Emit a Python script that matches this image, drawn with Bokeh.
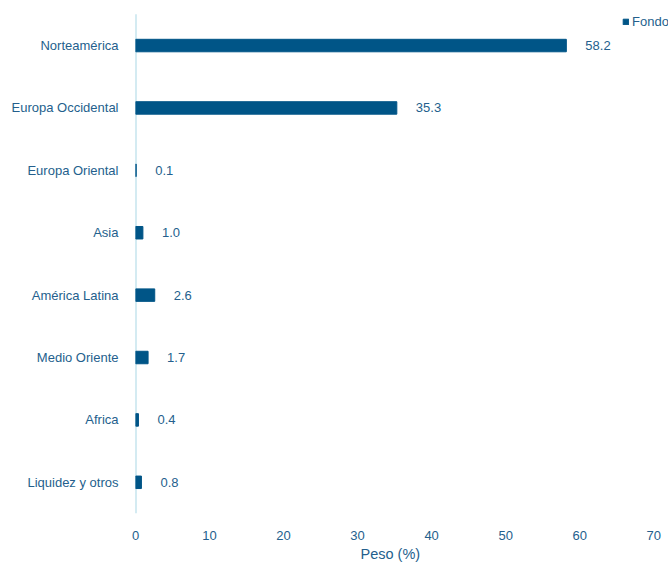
from bokeh.plotting import figure
from bokeh.models import ColumnDataSource, FixedTicker, Range1d, Legend, LegendItem, Title
from bokeh.core.properties import value
from bokeh.embed import file_html
from bokeh.resources import INLINE

regions = ["Norteamérica", "Europa Occidental", "Europa Oriental", "Asia",
           "América Latina", "Medio Oriente", "Africa", "Liquidez y otros"]
fondo = [58.2, 35.3, 0.1, 1.0, 2.6, 1.7, 0.4, 0.8]
x_ticks = [0, 10, 20, 30, 40, 50, 60, 70]
series_name = "Fondo"
x_title = "Peso (%)"

BAR = "#005587"
TXT = "#245F8D"
AXL = "#A9D8E6"
FONT = "Liberation Sans"

n = len(regions)
ypos = [n - 1 - i for i in range(n)]
labels = [f"{v:.1f}" for v in fondo]
src = ColumnDataSource(dict(region=regions, y=ypos, fondo=fondo, label=labels))

p = figure(width=670, height=562,
           y_range=Range1d(-0.5, n - 0.5 + 0.19),
           x_range=Range1d(0, 72),
           output_backend="svg", toolbar_location=None,
           min_border_left=135, min_border_right=2,
           min_border_top=2, min_border_bottom=46)

# axis line (category span)
p.segment(x0=[0], x1=[0], y0=[-0.5], y1=[n - 0.5], line_color=AXL, line_width=2)

r = p.hbar(y="y", right="fondo", left=0, height=0.2, source=src,
           fill_color=BAR, line_color=BAR, line_width=1)
p.text(x="fondo", y="y", text="label", source=src, x_offset=19,
       text_align="left", text_baseline="middle",
       text_font=value(FONT), text_font_size="13px", text_color=TXT)

p.xgrid.visible = False
p.ygrid.visible = False
p.outline_line_color = None

xa = p.xaxis[0]
xa.ticker = FixedTicker(ticks=x_ticks)
xa.axis_line_color = None
xa.major_tick_line_color = None
xa.minor_tick_line_color = None
xa.major_label_standoff = 11
xa.major_label_text_font = FONT
xa.major_label_text_font_size = "13px"
xa.major_label_text_color = TXT

p.add_layout(Title(text=x_title, align="left", offset=225, standoff=2,
                   text_font=FONT, text_font_size="14.5px",
                   text_font_style="normal", text_color=TXT), "below")

ya = p.yaxis[0]
ya.ticker = FixedTicker(ticks=ypos)
ya.major_label_overrides = {float(yv): name for yv, name in zip(ypos, regions)}
ya.axis_line_color = None
ya.major_tick_line_color = None
ya.minor_tick_line_color = None
ya.major_label_standoff = 11
ya.major_label_text_font = FONT
ya.major_label_text_font_size = "13px"
ya.major_label_text_color = TXT

legend = Legend(items=[LegendItem(label=series_name, renderers=[r])],
                location=(487, 484), glyph_width=7, glyph_height=7,
                label_height=14, label_standoff=3, padding=0, margin=0,
                spacing=0, border_line_color=None, background_fill_alpha=0,
                label_text_font=FONT, label_text_font_size="13px",
                label_text_color=TXT)
p.add_layout(legend)

open("out.html", "w").write(file_html(p, INLINE))
